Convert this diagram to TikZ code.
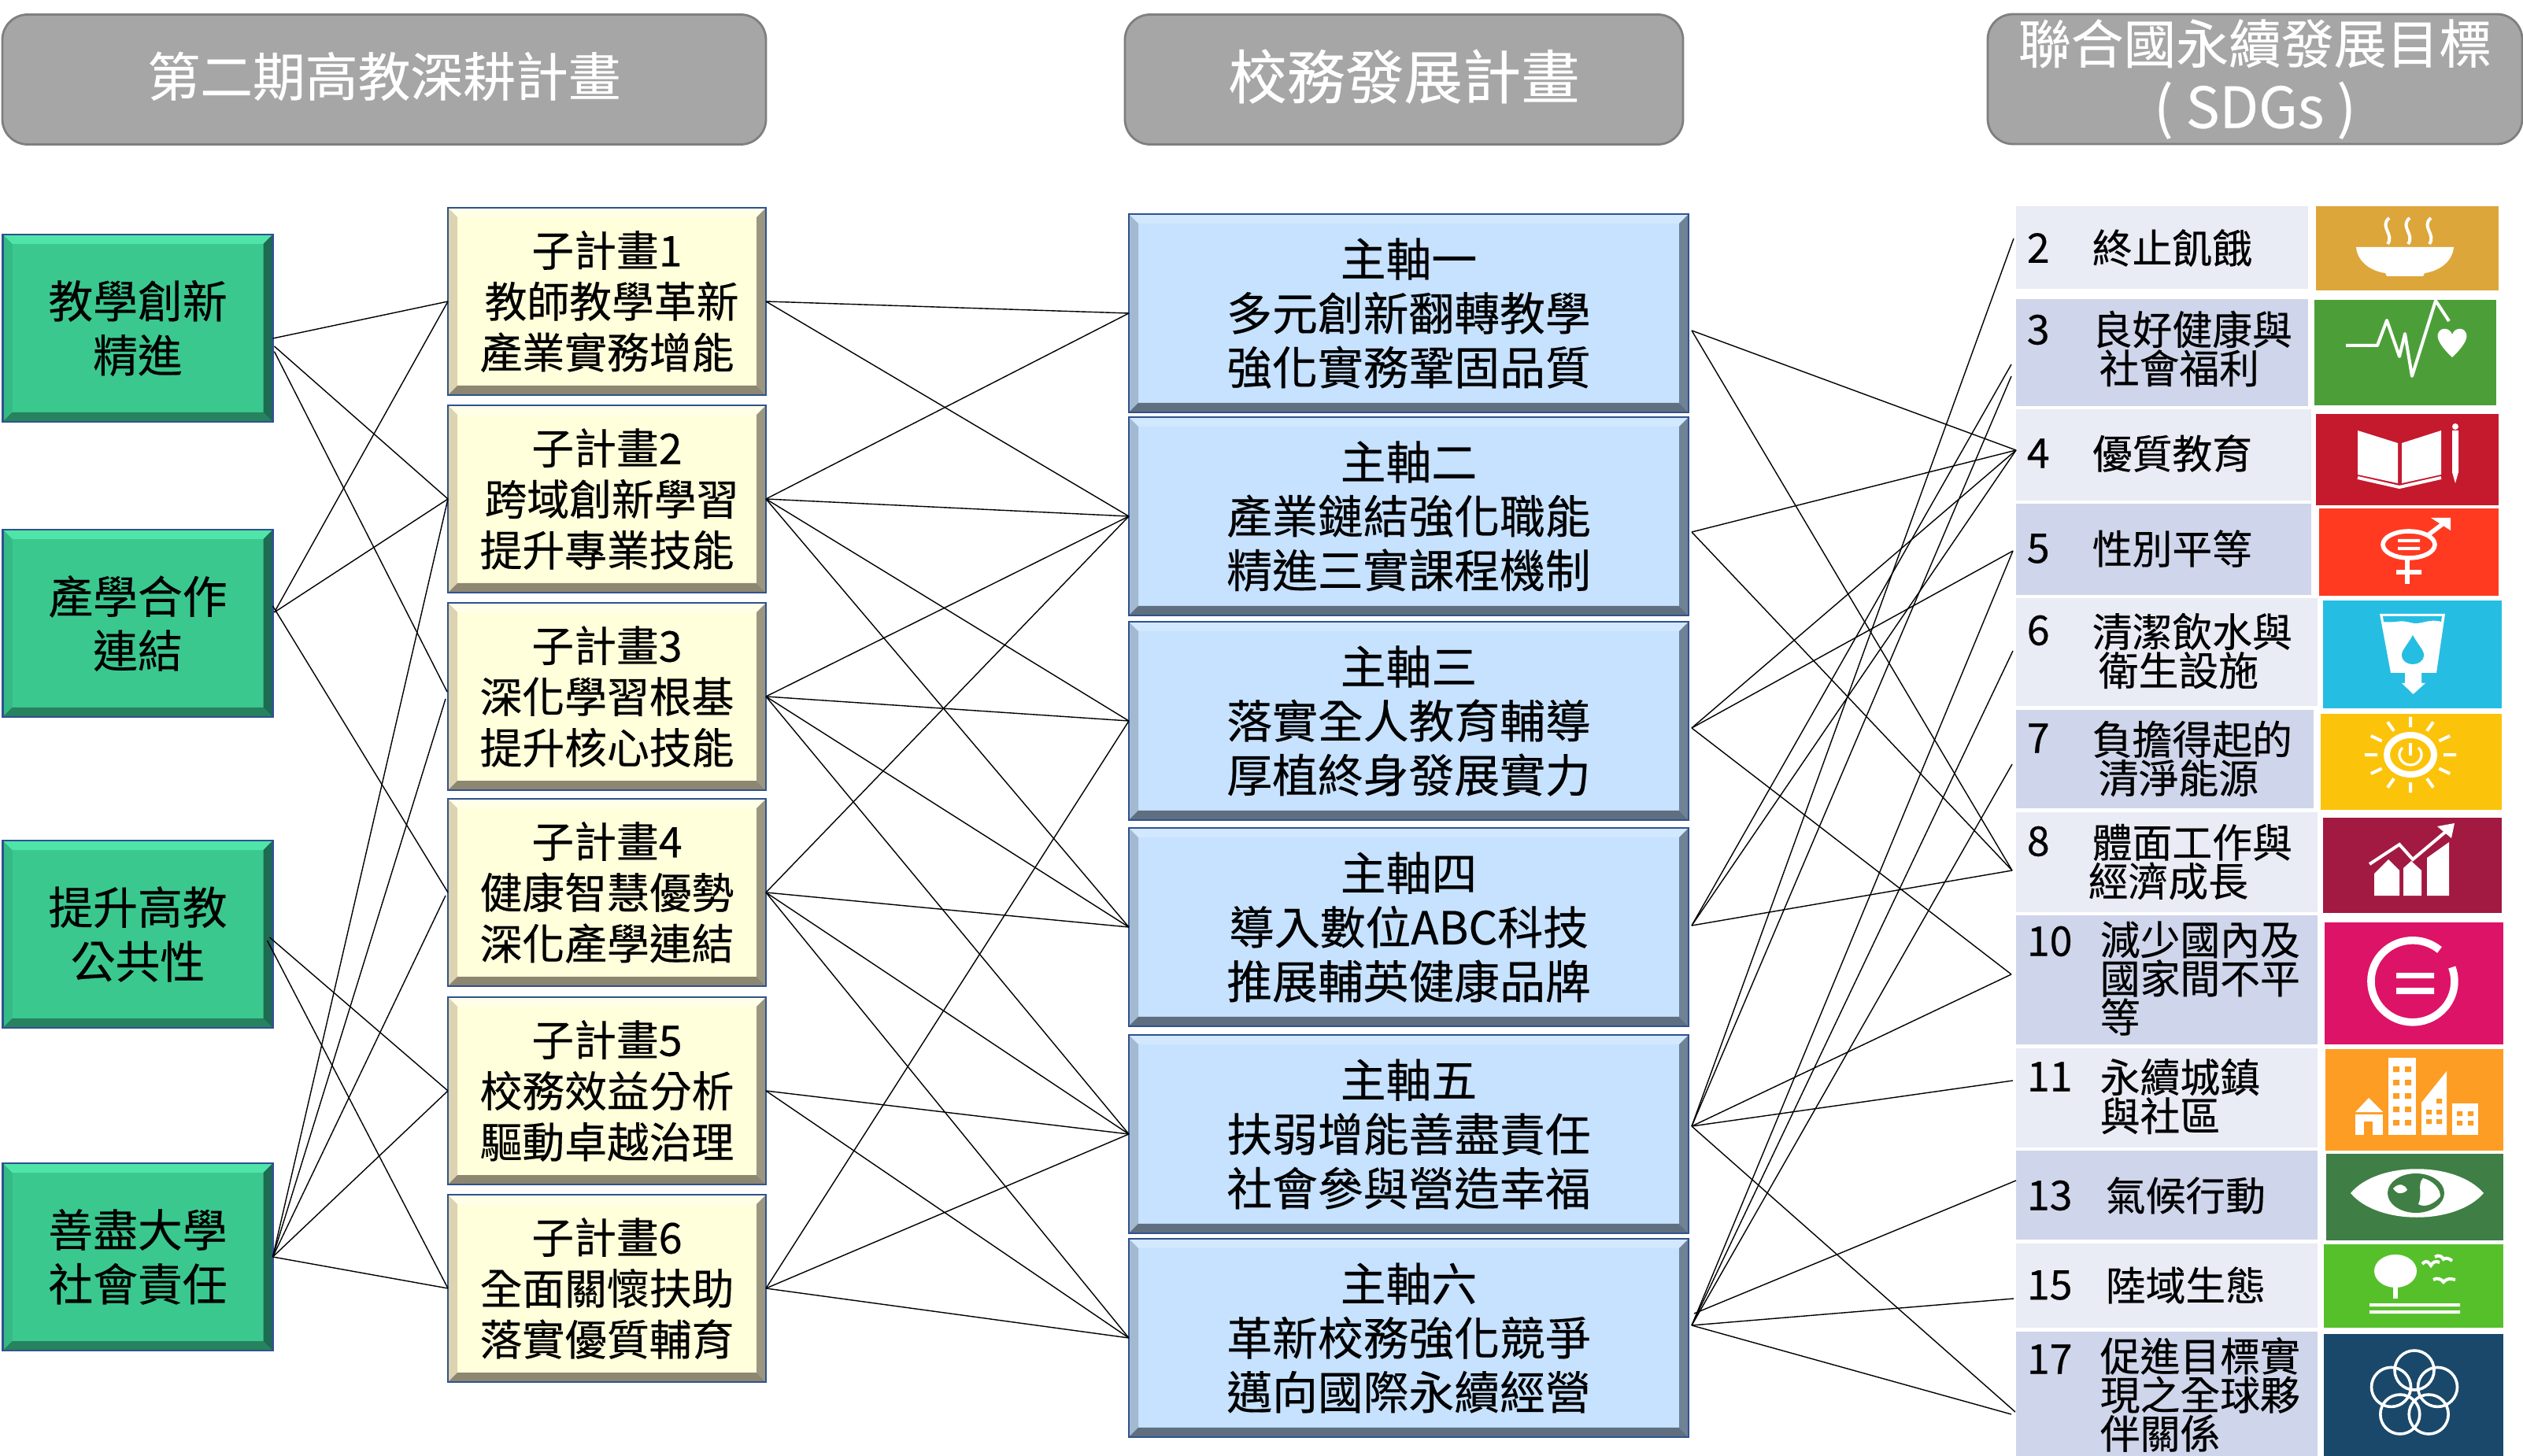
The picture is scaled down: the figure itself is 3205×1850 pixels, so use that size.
\documentclass[tikz,border=0pt]{standalone}
\usepackage{fontspec}
\setmainfont[FakeBold=0.35]{Noto Sans CJK TC}
\usepackage{tikz}

\definecolor{headfill}{HTML}{A6A6A6}
\definecolor{headline}{HTML}{7F7F7F}
\definecolor{boxline}{HTML}{2F528F}
\definecolor{rowlight}{HTML}{E9EBF5}
\definecolor{rowdark}{HTML}{CFD5EA}
\definecolor{greenface}{HTML}{3AC88F}
\definecolor{greentop}{HTML}{4FE5A9}
\definecolor{greenleft}{HTML}{35BA85}
\definecolor{greenright}{HTML}{1D6B50}
\definecolor{greenbottom}{HTML}{26825F}
\definecolor{yellowface}{HTML}{FFFFDB}
\definecolor{yellowtop}{HTML}{FFFFE8}
\definecolor{yellowleft}{HTML}{DDD3B0}
\definecolor{yellowright}{HTML}{9A9680}
\definecolor{yellowbottom}{HTML}{8D8670}
\definecolor{blueface}{HTML}{C6E2FF}
\definecolor{bluetop}{HTML}{D2E8FF}
\definecolor{blueleft}{HTML}{A3B9CF}
\definecolor{blueright}{HTML}{6F8296}
\definecolor{bluebottom}{HTML}{5F6F80}
\definecolor{goaltwo}{HTML}{DDA63A}
\definecolor{goalthree}{HTML}{4C9F38}
\definecolor{goalfour}{HTML}{C5192D}
\definecolor{goalfive}{HTML}{FF3A21}
\definecolor{goalsix}{HTML}{26BDE2}
\definecolor{goalseven}{HTML}{FCC30B}
\definecolor{goaleight}{HTML}{A21942}
\definecolor{goalten}{HTML}{DD1367}
\definecolor{goaleleven}{HTML}{FD9D24}
\definecolor{goalthirteen}{HTML}{3F7E44}
\definecolor{goalfifteen}{HTML}{56C02B}
\definecolor{goalseventeen}{HTML}{19486A}

\newcommand{\headfont}{\fontsize{16.7}{20.5}\selectfont}
\newcommand{\boxfont}{\fontsize{14.2}{17.2}\selectfont}
\newcommand{\axisfont}{\fontsize{14.45}{17.2}\selectfont}
\newcommand{\planfont}{\fontsize{13.45}{16.2}\selectfont}
\newcommand{\goalfont}{\fontsize{12.7}{12.3}\selectfont}

\tikzset{
  bevelbox/.style={rectangle, draw=boxline, line width=0.6pt, fill=#1face,
    inner sep=0pt, outer sep=0pt, path picture={
      \fill[#1top] (path picture bounding box.north west) -- (path picture bounding box.north east)
        -- ([xshift=-3pt,yshift=-3pt]path picture bounding box.north east)
        -- ([xshift=3pt,yshift=-3pt]path picture bounding box.north west) -- cycle;
      \fill[#1left] (path picture bounding box.north west) -- (path picture bounding box.south west)
        -- ([xshift=3pt,yshift=3pt]path picture bounding box.south west)
        -- ([xshift=3pt,yshift=-3pt]path picture bounding box.north west) -- cycle;
      \fill[#1right] (path picture bounding box.north east) -- (path picture bounding box.south east)
        -- ([xshift=-3pt,yshift=3pt]path picture bounding box.south east)
        -- ([xshift=-3pt,yshift=-3pt]path picture bounding box.north east) -- cycle;
      \fill[#1bottom] (path picture bounding box.south west) -- (path picture bounding box.south east)
        -- ([xshift=-3pt,yshift=3pt]path picture bounding box.south east)
        -- ([xshift=3pt,yshift=3pt]path picture bounding box.south west) -- cycle;
    }},
  greenbox/.style={bevelbox=green, minimum width=85.75pt, minimum height=59.5pt, font=\boxfont},
  yellowbox/.style={bevelbox=yellow, minimum width=101pt, minimum height=59.5pt, font=\planfont},
  bluebox/.style={bevelbox=blue, minimum width=177.75pt, minimum height=62.9pt, font=\axisfont},
  headbox/.style={rectangle, rounded corners=8pt, draw=headline, line width=0.7pt, fill=headfill,
    text=white, inner sep=0pt, outer sep=0pt, minimum height=41.25pt, font=\headfont},
  goalnum/.style={anchor=west, inner sep=0pt, font=\fontsize{13}{13}\selectfont},
  goaltxt/.style={anchor=west, inner sep=0pt, align=left, font=\goalfont},
  link/.style={line width=0.35pt, black},
  iconline/.style={white, line width=1pt}
}

\begin{document}
\begin{tikzpicture}[x=0.25pt, y=-0.25pt, every node/.append style={align=center}]
    \useasboundingbox (0,0) rectangle (3205,1850);

    \node[headbox, minimum width=242.5pt] (headplan) at (488,101) {\raisebox{3.5pt}{第二期高教深耕計畫}};
    \node[headbox, minimum width=177.25pt, font=\fontsize{18.6}{22}\selectfont] (headmain) at (1783.5,101) {\raisebox{3.5pt}{校務發展計畫}};
    \node[headbox, minimum width=169.75pt] (headsdg) at (2864.5,100.5) {\raisebox{-1.5pt}{聯合國永續發展目標} \\ {\fontsize{18}{20.5}\selectfont \raisebox{-1.5pt}{( SDGs )}}};

    \node[greenbox] (green1) at (175,417)  {教學創新 \\ 精進};
    \node[greenbox] (green2) at (175,792)  {產學合作 \\ 連結};
    \node[greenbox] (green3) at (175,1187) {提升高教 \\ 公共性};
    \node[greenbox] (green4) at (175,1597) {善盡大學 \\ 社會責任};

    \node[yellowbox] (yellow1) at (771,383)  {子計畫1 \\ \hspace*{3pt}教師教學革新 \\ 產業實務增能};
    \node[yellowbox] (yellow2) at (771,634)  {子計畫2 \\ \hspace*{3pt}跨域創新學習 \\ 提升專業技能};
    \node[yellowbox] (yellow3) at (771,885)  {子計畫3 \\ 深化學習根基 \\ 提升核心技能};
    \node[yellowbox] (yellow4) at (771,1134) {子計畫4 \\ 健康智慧優勢 \\ 深化產學連結};
    \node[yellowbox] (yellow5) at (771,1386) {子計畫5 \\ 校務效益分析 \\ 驅動卓越治理};
    \node[yellowbox] (yellow6) at (771,1637) {子計畫6 \\ 全面關懷扶助 \\ 落實優質輔育};

    \node[bluebox] (blue1) at (1789.5,398)  {主軸一 \\ 多元創新翻轉教學 \\ 強化實務鞏固品質};
    \node[bluebox] (blue2) at (1789.5,656)  {主軸二 \\ 產業鏈結強化職能 \\ 精進三實課程機制};
    \node[bluebox] (blue3) at (1789.5,916)  {主軸三 \\ 落實全人教育輔導 \\ 厚植終身發展實力};
    \node[bluebox] (blue4) at (1789.5,1178) {主軸四 \\ 導入數位ABC科技 \\ 推展輔英健康品牌};
    \node[bluebox] (blue5) at (1789.5,1441) {主軸五 \\ 扶弱增能善盡責任 \\ 社會參與營造幸福};
    \node[bluebox] (blue6) at (1789.5,1700) {主軸六 \\ 革新校務強化競爭 \\ 邁向國際永續經營};

    % goal rows
    \fill[rowlight] (2561,262)  rectangle (2932,367);
    \fill[rowdark]  (2561,380)  rectangle (2932,516);
    \fill[rowlight] (2561,520)  rectangle (2936,636);
    \fill[rowdark]  (2561,640)  rectangle (2936,756);
    \fill[rowlight] (2561,760)  rectangle (2944,897);
    \fill[rowdark]  (2561,902)  rectangle (2939,1027);
    \fill[rowlight] (2561,1032) rectangle (2944,1159);
    \fill[rowdark]  (2561,1163) rectangle (2944,1327);
    \fill[rowlight] (2561,1332) rectangle (2944,1458);
    \fill[rowdark]  (2561,1462) rectangle (2944,1575);
    \fill[rowlight] (2561,1580) rectangle (2944,1687);
    \fill[rowdark]  (2561,1692) rectangle (2944,1850);

    \node[goalnum] (num2)  at (2574,315)  {2};
    \node[goalnum] (num3)  at (2574,419)  {3};
    \node[goalnum] (num4)  at (2574,576)  {4};
    \node[goalnum] (num5)  at (2574,697)  {5};
    \node[goalnum] (num6)  at (2574,801)  {6};
    \node[goalnum] (num7)  at (2574,938)  {7};
    \node[goalnum] (num8)  at (2574,1069) {8};
    \node[goalnum] (num10) at (2574,1196) {10};
    \node[goalnum] (num11) at (2574,1368) {11};
    \node[goalnum] (num13) at (2574,1519) {13};
    \node[goalnum] (num15) at (2574,1633) {15};
    \node[goalnum] (num17) at (2574,1727) {17};

    \node[goaltxt] (txt2)  at (2657,315)  {終止飢餓};
    \node[goaltxt] (txt3)  at (2657,443)  {良好健康與 \\ \hspace*{2.25pt}社會福利};
    \node[goaltxt] (txt4)  at (2657,576)  {優質教育};
    \node[goaltxt] (txt5)  at (2657,697)  {性別平等};
    \node[goaltxt] (txt6)  at (2657,827)  {清潔飲水與 \\ \hspace*{2pt}衛生設施};
    \node[goaltxt] (txt7)  at (2657,964)  {負擔得起的 \\ \hspace*{2pt}清淨能源};
    \node[goaltxt] (txt8)  at (2652,1095) {\hspace*{1.25pt}體面工作與 \\ 經濟成長};
    \node[goaltxt] (txt10) at (2667,1243) {減少國內及 \\ 國家間不平 \\ 等};
    \node[goaltxt] (txt11) at (2667,1393) {永續城鎮 \\ 與社區};
    \node[goaltxt] (txt13) at (2674,1519) {氣候行動};
    \node[goaltxt] (txt15) at (2674,1633) {陸域生態};
    \node[goaltxt] (txt17) at (2667,1772) {促進目標實 \\ 現之全球夥 \\ 伴關係};

    % goal icons
    \fill[goaltwo]       (2942,262)  rectangle (3174,369);
    \fill[goalthree]     (2940,381)  rectangle (3171,515);
    \fill[goalfour]      (2942,526)  rectangle (3174,642);
    \fill[goalfive]      (2946,646)  rectangle (3174,757);
    \fill[goalsix]       (2951,763)  rectangle (3178,900);
    \fill[goalseven]     (2948,907)  rectangle (3178,1029);
    \fill[goaleight]     (2951,1039) rectangle (3178,1160);
    \fill[goalten]       (2953,1172) rectangle (3180,1327);
    \fill[goaleleven]    (2954,1333) rectangle (3180,1462);
    \fill[goalthirteen]  (2955,1466) rectangle (3180,1576);
    \fill[goalfifteen]   (2952,1581) rectangle (3180,1687);
    \fill[goalseventeen] (2952,1695) rectangle (3180,1850);

    % 2 bowl
    \fill[white] (2993,314) -- (3117,314) .. controls (3115,335) and (3095,345) .. (3080,347) -- (3078,351)
      -- (3032,351) -- (3030,347) .. controls (3015,345) and (2995,335) .. (2993,314) -- cycle;
    \draw[iconline] (3035,277) .. controls (3022,288) and (3042,298) .. (3033,310);
    \draw[iconline] (3061,277) .. controls (3048,288) and (3068,298) .. (3059,310);
    \draw[iconline] (3088,277) .. controls (3075,288) and (3095,298) .. (3086,310);
    % 3 pulse
    \draw[iconline, line join=round] (2980,439) -- (3020,439) -- (3032,407) -- (3048,453) -- (3055,424) -- (3064,478) -- (3094,382) -- (3111,408);
    \fill[white] (3115,454) .. controls (3100,440) and (3095,430) .. (3097,424) .. controls (3100,415) and (3112,416) .. (3115,425)
      .. controls (3118,416) and (3130,415) .. (3133,424) .. controls (3135,430) and (3130,440) .. (3115,454) -- cycle;
    % 4 book
    \fill[white] (2995,547) -- (3046,563) -- (3046,614) -- (2995,603) -- cycle;
    \fill[white] (3051,563) -- (3101,547) -- (3101,603) -- (3051,614) -- cycle;
    \draw[iconline] (2995,607) -- (3048,619) -- (3101,607);
    \fill[white] (3115,547) -- (3123,547) -- (3123,600) -- (3119,614) -- (3115,600) -- cycle;
    \fill[white] (3119,542) circle (4);
    % 5 gender
    \draw[white, line width=1.4pt] (3060,692) ellipse [x radius=33, y radius=17];
    \draw[white, line width=1.4pt] (3058,709) -- (3058,742) (3044,727) -- (3076,727) (3084,680) -- (3108,662);
    \fill[white] (3088,658) -- (3113,658) -- (3113,674) -- cycle;
    \fill[white] (3046,685) rectangle (3074,689) (3046,695) rectangle (3074,699);
    % 6 water
    \fill[white] (3023,780) -- (3106,780) -- (3095,855) -- (3076,855) -- (3076,868) -- (3081,868) -- (3065.5,882)
      -- (3051,868) -- (3055,868) -- (3055,855) -- (3037,855) -- cycle;
    \fill[goalsix] (3027,783) -- (3102,783) -- (3101,790) .. controls (3085,785) and (3075,795) .. (3062,791)
      .. controls (3050,787) and (3040,792) .. (3028,790) -- cycle;
    \fill[goalsix] (3065,807) .. controls (3072,820) and (3079,826) .. (3079,832)
      .. controls (3079,848) and (3051,848) .. (3051,832) .. controls (3051,826) and (3058,820) .. (3065,807) -- cycle;
    % 7 sun
    \draw[white, line width=2pt] (3062,959) ellipse [x radius=30, y radius=25];
    \draw[iconline] (3104,959) -- (3120,959) (3098.4,941.5) -- (3112.2,935) (3083,928.7) -- (3091,917.4) (3062,924) -- (3062,911)
      (3041,928.7) -- (3033,917.4) (3025.6,941.5) -- (3011.8,935) (3020,959) -- (3004,959) (3025.6,976.5) -- (3011.8,983)
      (3041,989.3) -- (3033,1000.6) (3062,994) -- (3062,1007) (3083,989.3) -- (3091,1000.6) (3098.4,976.5) -- (3112.2,983);
    \draw[white, line width=0.8pt] (3052,950) .. controls (3043,958) and (3050,972) .. (3062,972) .. controls (3074,972) and (3081,958) .. (3072,950);
    \draw[white, line width=0.8pt] (3062,944) -- (3062,960);
    % 8 chart
    \fill[white] (3016,1110) -- (3034,1092) -- (3048,1106) -- (3048,1138) -- (3016,1138) -- cycle;
    \fill[white] (3053,1103) -- (3063,1094) -- (3076,1106) -- (3076,1138) -- (3053,1138) -- cycle;
    \fill[white] (3083,1090) -- (3111,1070) -- (3111,1138) -- (3083,1138) -- cycle;
    \draw[white, line width=1pt] (3010,1098) -- (3048,1073) -- (3065,1092) -- (3110,1054);
    \fill[white] (3118,1046) -- (3096,1050) -- (3114,1065) -- cycle;
    % 10 equals
    \draw[white, line width=2.4pt] (3099,1207) arc[start angle=-50, end angle=-380, x radius=53, y radius=52];
    \fill[white] (3044,1236) rectangle (3092,1243) (3044,1255) rectangle (3092,1263);
    % 11 city
    \fill[white] (3034,1344) rectangle (3069,1442);
    \fill[white] (2992,1413) -- (3009,1395) -- (3027,1413) -- cycle;
    \fill[white] (2992,1416) rectangle (3027,1442);
    \fill[white] (3076,1401) -- (3108,1361) -- (3108,1442) -- (3076,1442) -- cycle;
    \fill[white] (3115,1402) rectangle (3148,1442);
    \fill[goaleleven] (3003,1425) rectangle (3014,1442);
    \fill[goaleleven] (3040,1355) rectangle (3048,1362) (3055,1355) rectangle (3063,1362)
      (3040,1372) rectangle (3048,1379) (3055,1372) rectangle (3063,1379) (3040,1389) rectangle (3048,1396) (3055,1389) rectangle (3063,1396)
      (3040,1406) rectangle (3048,1413) (3055,1406) rectangle (3063,1413) (3040,1423) rectangle (3048,1430) (3055,1423) rectangle (3063,1430);
    \fill[goaleleven] (3082,1410) rectangle (3089,1416) (3095,1410) rectangle (3102,1416)
      (3082,1422) rectangle (3089,1428) (3095,1422) rectangle (3102,1428) (3095,1396) rectangle (3102,1402);
    \fill[goaleleven] (3121,1412) rectangle (3128,1418) (3135,1412) rectangle (3142,1418)
      (3121,1424) rectangle (3128,1430) (3135,1424) rectangle (3142,1430);
    % 13 eye
    \fill[white] (2986,1516) .. controls (3020,1475) and (3120,1475) .. (3155,1516) .. controls (3120,1557) and (3020,1557) .. (2986,1516) -- cycle;
    \fill[goalthirteen] (3069,1516) ellipse [x radius=36, y radius=25];
    \fill[white] (3078,1497) .. controls (3090,1500) and (3100,1510) .. (3100,1520) .. controls (3092,1530) and (3080,1535) .. (3072,1530) .. controls (3078,1518) and (3070,1505) .. (3078,1497) -- cycle;
    \fill[white] (3040,1510) .. controls (3048,1502) and (3055,1505) .. (3058,1512) .. controls (3052,1518) and (3045,1518) .. (3040,1510) -- cycle;
    % 15 tree
    \fill[white] (3043,1615) ellipse [x radius=27, y radius=21];
    \fill[white] (3040,1636) rectangle (3046,1650);
    \fill[white] (3010,1656) rectangle (3125,1660) (3010,1665) rectangle (3125,1669);
    \draw[iconline] (3077,1606) .. controls (3083,1600) and (3085,1604) .. (3088,1608) .. controls (3091,1603) and (3094,1602) .. (3099,1604);
    \draw[iconline] (3093,1597) .. controls (3098,1594) and (3102,1596) .. (3104,1600) .. controls (3106,1598) and (3110,1598) .. (3115,1602);
    \draw[iconline] (3091,1626) .. controls (3096,1623) and (3101,1625) .. (3104,1629) .. controls (3107,1625) and (3112,1624) .. (3119,1626);
    % 17 rings
    \draw[white, line width=0.9pt] (3067,1741) circle (25) (3096.5,1762.4) circle (25) (3085.2,1797) circle (25) (3048.8,1797) circle (25) (3037.5,1762.4) circle (25);

    \coordinate (out1) at ([xshift=1pt,yshift=-5.5pt]blue1.east);
    \coordinate (out2) at ([xshift=1pt,yshift=-5pt]blue2.east);
    \coordinate (out3) at ([xshift=1pt,yshift=-2.25pt]blue3.east);
    \coordinate (out4) at ([xshift=1pt,yshift=0.5pt]blue4.east);
    \coordinate (out5) at ([xshift=1pt,yshift=2.5pt]blue5.east);
    \coordinate (out6) at ([xshift=1pt,yshift=4pt]blue6.east);
    \coordinate (out6b) at ([xshift=1.75pt,yshift=7.75pt]blue6.east);

    \coordinate (goal2)  at (2558,303);
    \coordinate (goal3a) at (2555,463);
    \coordinate (goal3b) at (2555,478);
    \coordinate (goal4)  at (2561,572);
    \coordinate (goal5)  at (2557,700);
    \coordinate (goal6)  at (2557,827);
    \coordinate (goal7)  at (2556,971);
    \coordinate (goal8)  at (2556,1106);
    \coordinate (goal10) at (2555,1238);
    \coordinate (goal11) at (2557,1373);
    \coordinate (goal13) at (2561,1500);
    \coordinate (goal15) at (2558,1650);
    \coordinate (goal17a) at (2560,1794);
    \coordinate (goal17b) at (2555,1797);

    \draw[link] ([yshift=-3.25pt]green1.east) -- (yellow1.west);
    \draw[link] ([xshift=0.5pt,yshift=-5.75pt]green1.east) -- (yellow2.west);
    \draw[link] ([xshift=0.5pt,yshift=-7.4pt]green1.east) -- ([xshift=-0.25pt,yshift=1.5pt]yellow3.west);
    \draw[link] ([xshift=0.5pt,yshift=3.5pt]green2.east) -- (yellow1.west);
    \draw[link] ([xshift=0.5pt,yshift=3.5pt]green2.east) -- (yellow2.west);
    \draw[link] ([yshift=5.5pt]green2.east) -- (yellow4.west);
    \draw[link] ([xshift=-1pt,yshift=-1pt]green3.east) -- (yellow5.west);
    \draw[link] ([xshift=-1.75pt,yshift=-2pt]green3.east) -- (yellow6.west);
    \draw[link] (green4.east) -- (yellow2.west);
    \draw[link] (green4.east) -- ([xshift=-0.75pt,yshift=-0.75pt]yellow3.west);
    \draw[link] (green4.east) -- ([xshift=-0.75pt,yshift=-1pt]yellow4.west);
    \draw[link] (green4.east) -- (yellow5.west);
    \draw[link] (green4.east) -- (yellow6.west);

    \draw[link] (yellow1.east) -- (blue1.west);
    \draw[link] (yellow1.east) -- (blue2.west);
    \draw[link] (yellow2.east) -- (blue1.west);
    \draw[link] (yellow2.east) -- (blue2.west);
    \draw[link] (yellow2.east) -- (blue3.west);
    \draw[link] (yellow2.east) -- (blue4.west);
    \draw[link] (yellow3.east) -- (blue2.west);
    \draw[link] (yellow3.east) -- (blue3.west);
    \draw[link] (yellow3.east) -- (blue4.west);
    \draw[link] (yellow3.east) -- (blue5.west);
    \draw[link] (yellow4.east) -- (blue2.west);
    \draw[link] (yellow4.east) -- (blue4.west);
    \draw[link] (yellow4.east) -- (blue5.west);
    \draw[link] (yellow4.east) -- (blue6.west);
    \draw[link] (yellow5.east) -- (blue5.west);
    \draw[link] (yellow5.east) -- (blue6.west);
    \draw[link] (yellow6.east) -- (blue3.west);
    \draw[link] (yellow6.east) -- (blue5.west);
    \draw[link] (yellow6.east) -- (blue6.west);

    \draw[link] (out1) -- (goal4);
    \draw[link] (out1) -- (goal8);
    \draw[link] (out2) -- (goal4);
    \draw[link] (out2) -- (goal8);
    \draw[link] (out3) -- (goal4);
    \draw[link] (out3) -- (goal5);
    \draw[link] (out3) -- (goal10);
    \draw[link] (out4) -- (goal3a);
    \draw[link] (out4) -- (goal4);
    \draw[link] (out4) -- (goal8);
    \draw[link] (out5) -- (goal2);
    \draw[link] (out5) -- (goal3b);
    \draw[link] (out5) -- (goal10);
    \draw[link] (out5) -- (goal11);
    \draw[link] (out5) -- (goal17a);
    \draw[link] (out6) -- (goal5);
    \draw[link] (out6) -- (goal6);
    \draw[link] (out6) -- (goal7);
    \draw[link] (out6b) -- (goal13);
    \draw[link] (out6) -- (goal15);
    \draw[link] (out6) -- (goal17b);
\end{tikzpicture}
\end{document}
